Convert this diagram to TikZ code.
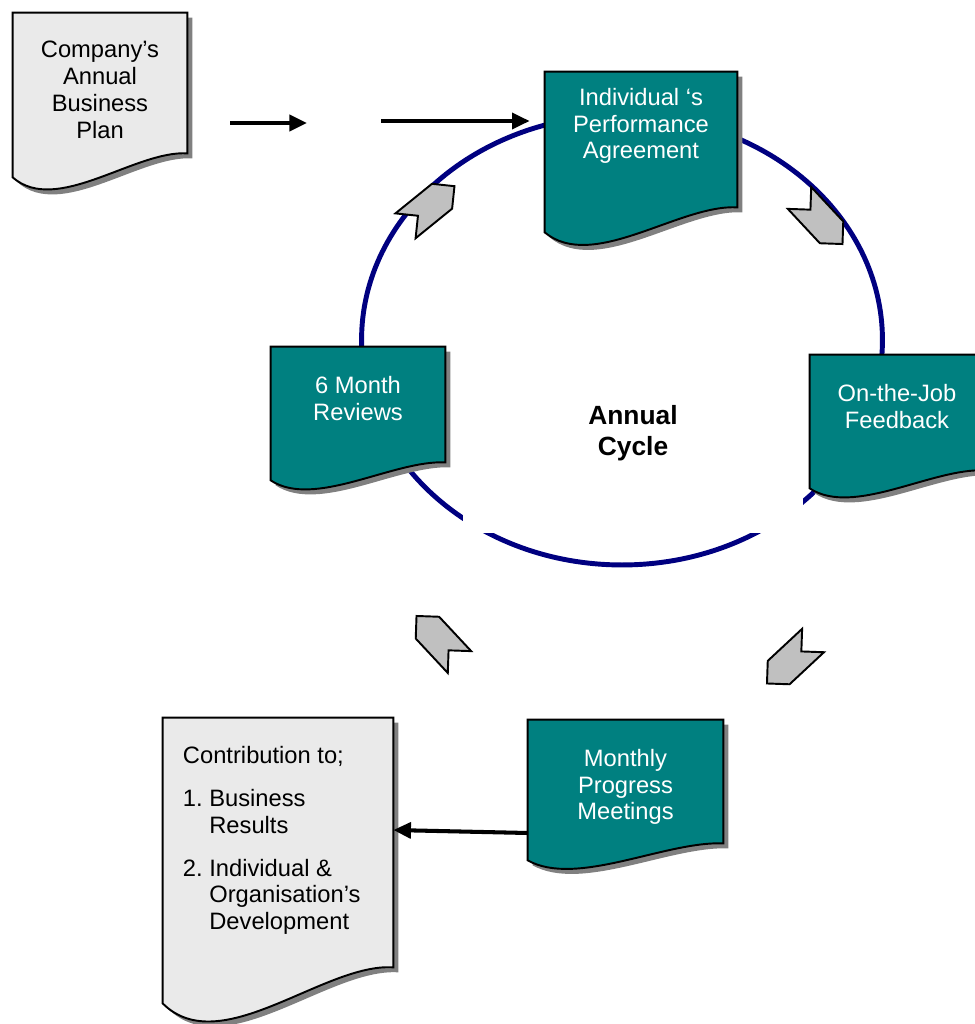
\documentclass[tikz,border=0pt]{standalone}
\usepackage{fontspec}
\setmainfont{Liberation Sans}
\usetikzlibrary{shapes.symbols,arrows.meta,positioning,fit,calc,backgrounds}

\definecolor{docteal}{RGB}{0,128,128}
\definecolor{docgray}{RGB}{234,234,234}
\definecolor{chevgray}{RGB}{192,192,192}
\definecolor{cyclenavy}{RGB}{0,0,128}
\definecolor{shadowgray}{RGB}{128,128,128}

\tikzset{
  docbox/.style={inner sep=0pt, draw=none},
  doctext/.style={inner sep=0pt, align=center, font=\fontsize{13.5}{15.3}\selectfont},
  tealtext/.style={doctext, text=white},
  chev/.style={signal, signal to=east, signal from=west, draw=black, line width=1.1pt,
    fill=chevgray, minimum width=1.26cm, minimum height=0.64cm, inner sep=0pt},
  flowarrow/.style={line width=2.3pt, -{Triangle[length=10pt,width=9pt]}},
  cycleline/.style={draw=cyclenavy, line width=2.8pt},
  cyclebox/.style={fill=white, minimum width=6.8cm, minimum height=4cm, align=center,
    font=\bfseries\fontsize{15}{17.6}\selectfont}
}

% outline of a document node: #1 node name, #2 rise of the right end
\newcommand\docoutline[2]{%
  (#1.north west) -- (#1.north east) -- ($(#1.south east)+(0,-#2)$)
  .. controls ($(#1.south west)!0.7!(#1.south east)+(0,-1.13*#2)$)
  and ($(#1.south west)!0.25!(#1.south east)+(0,1.6*#2)$) .. (#1.south west) -- cycle}

\begin{document}
\begin{tikzpicture}[x=0.02cm, y=-0.02cm]
  \useasboundingbox (0,0) rectangle (974,1024);

  % documents
  \node[docbox, fit={(13,13) (187,177)}] (company) {};
  \node[docbox, fit={(545,72) (737,232)}] (indiv) {};
  \node[docbox, fit={(271,347) (445,480)}] (sixmonth) {};
  \node[docbox, fit={(810,355) (984,488)}] (onjob) {};
  \node[docbox, fit={(528,720) (723,860)}] (monthly) {};
  \node[docbox, fit={(163,718) (393,1003)}] (contrib) {};

  \node[doctext, below=0.56cm of company.north] (companytxt) {Company's\\Annual\\Business\\Plan};
  \node[tealtext, below=0.32cm of indiv.north] (indivtxt) {Individual `s\\Performance\\Agreement};
  \node[tealtext, below=0.58cm of sixmonth.north] (sixtxt) {6 Month\\Reviews};
  \node[tealtext, below=0.58cm of onjob.north] (onjobtxt) {On-the-Job\\Feedback};
  \node[tealtext, below=0.58cm of monthly.north] (monthlytxt) {Monthly\\Progress\\Meetings};
  \node[doctext, align=left, below right=0.54cm and 0.4cm of contrib.north west] (contribtxt) {%
    \begin{tabular}{@{}l@{\ }l@{}}
      \multicolumn{2}{@{}l@{}}{Contribution to;}\\[9pt]
      1. & Business\\
         & Results\\[9pt]
      2. & Individual \&\\
         & Organisation's\\
         & Development
    \end{tabular}};

  \node[cyclebox] (cycle) at (633,433) {Annual\\Cycle};

  % chevrons round the cycle
  \node[chev, rotate=39] (chevA) at (430,206) {};
  \node[chev, rotate=-47] (chevB) at (821,221) {};
  \node[chev, rotate=-137] (chevD) at (790,662) {};
  \node[chev, rotate=133] (chevC) at (438,639) {};

  % arrows
  \coordinate (planA) at (230,123);
  \coordinate (planB) at (307,123);
  \coordinate (planC) at (381,121);
  \draw[flowarrow] (planA) -- (planB);
  \draw[flowarrow] (planC) -- ([xshift=-0.3cm]indiv.west |- planC);
  \draw[flowarrow] ([yshift=-0.86cm]monthly.west) -- ([yshift=0.61cm]contrib.east);

  \begin{scope}[on background layer]
    \draw[cycleline] (622,340) ellipse [x radius=5.21cm, y radius=4.5cm];
    \foreach \d/\r/\c in {company/24/docgray, indiv/25/docteal, sixmonth/18/docteal,
                          onjob/18/docteal, monthly/17/docteal, contrib/36/docgray} {
      \fill[shadowgray, transform canvas={xshift=0.1cm, yshift=-0.1cm}] \docoutline{\d}{\r};
      \draw[line width=1.1pt, fill=\c] \docoutline{\d}{\r};
    }
  \end{scope}
\end{tikzpicture}
\end{document}
